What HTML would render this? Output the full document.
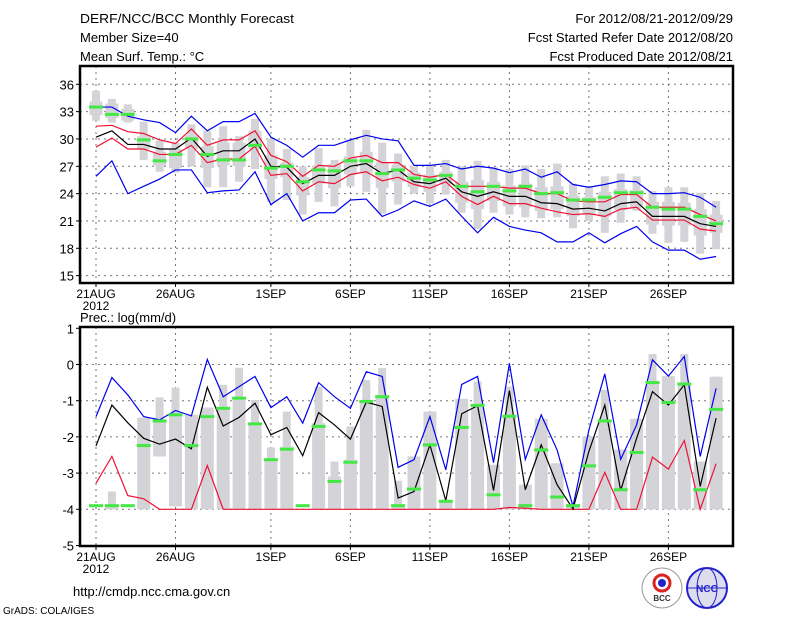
<!DOCTYPE html>
<html><head><meta charset="utf-8"><style>
body{margin:0;background:#fff;}
svg{display:block;font-family:"Liberation Sans",sans-serif;}
</style></head><body>
<svg id="c" width="800" height="618" xmlns="http://www.w3.org/2000/svg">
<text x="80" y="23" font-size="13" textLength="214" lengthAdjust="spacingAndGlyphs">DERF/NCC/BCC Monthly Forecast</text>
<text x="80" y="42" font-size="13">Member Size=40</text>
<text x="80" y="61" font-size="13">Mean Surf. Temp.: °C</text>
<text x="733" y="23" font-size="13" text-anchor="end">For 2012/08/21-2012/09/29</text>
<text x="733" y="42" font-size="13" text-anchor="end">Fcst Started Refer Date 2012/08/20</text>
<text x="733" y="61" font-size="13" text-anchor="end">Fcst Produced Date 2012/08/21</text>
<text x="80" y="322" font-size="13">Prec.: log(mm/d)</text>
<text x="73" y="596" font-size="13">http://cmdp.ncc.cma.gov.cn</text>
<text x="3" y="614" font-size="10">GrADS: COLA/IGES</text>
<g><circle cx="662" cy="588" r="20" fill="#fff" stroke="#999"/><circle cx="662" cy="583" r="8" fill="none" stroke="#d22" stroke-width="3"/><circle cx="662" cy="583" r="4" fill="#22c"/><text x="662" y="601" font-size="8" text-anchor="middle" font-weight="bold" fill="#333">BCC</text></g>
<g><circle cx="707" cy="588" r="20" fill="#dde" stroke="#22c" stroke-width="2"/><ellipse cx="707" cy="588" rx="10" ry="20" fill="none" stroke="#22c"/><line x1="687" y1="588" x2="727" y2="588" stroke="#22c"/><text x="707" y="592" font-size="10" text-anchor="middle" font-weight="bold" fill="#22c">NCC</text></g>
<g id="top"></g><g id="bot"></g>
</svg>
<script>
// ---- Temperature panel data (day 0 = 21 Aug) ----
const tBlueHi=[33.5,33.5,32.5,32.1,31.8,30.7,32.5,30.9,31.9,31.9,32.8,30.2,29.3,28.0,29.3,29.3,29.9,30.4,30.0,29.8,27.1,27.1,27.3,26.7,27.0,26.8,26.3,26.7,25.8,26.4,25.0,24.7,25.0,25.4,25.3,24.0,24.0,24.1,23.6,22.5];
const tBlueLo=[25.9,27.6,24.0,24.8,25.6,26.6,26.6,24.1,24.3,24.4,26.4,22.8,24.0,21.0,21.9,21.9,23.3,23.4,21.5,22.2,23.2,22.6,23.4,21.5,19.7,21.4,20.4,20.0,19.7,18.7,18.7,19.7,18.6,19.6,20.4,18.7,17.8,17.8,16.8,17.1];
const tRedHi=[31.4,31.5,30.8,30.6,29.9,29.5,31.1,29.3,29.9,29.9,30.9,28.2,27.5,25.9,27.1,27.0,27.9,28.2,27.4,27.4,26.1,25.8,26.1,24.8,24.8,24.8,24.6,24.6,24.0,24.0,23.2,23.1,23.1,23.9,23.9,22.5,22.5,22.5,21.7,21.0];
const tRedLo=[29.1,30.1,28.9,28.9,28.3,28.3,29.3,27.4,27.8,27.8,29.2,26.0,26.2,24.3,25.3,25.1,26.1,26.4,25.4,25.8,25.0,24.6,25.3,23.7,22.8,23.7,22.9,22.9,22.4,22.0,21.7,21.8,21.5,22.3,22.5,21.1,21.1,21.1,20.1,19.9];
const tMean=[30.2,30.9,29.4,29.4,28.9,28.9,30.1,28.1,28.7,28.7,30.0,27.0,26.9,25.1,26.0,26.0,27.0,27.3,26.2,26.6,25.3,25.1,25.7,24.2,23.7,24.2,23.7,23.7,23.0,22.9,22.3,22.4,22.1,22.9,23.1,21.5,21.5,21.5,20.7,20.4];
const tObs=[33.5,32.7,32.7,29.9,27.6,28.3,30.0,28.3,27.7,27.7,29.3,26.8,27.0,25.3,26.6,26.5,27.6,27.6,26.2,26.6,25.7,25.5,26.0,24.8,24.2,24.8,24.3,24.8,24.0,24.1,23.3,23.3,23.6,24.1,24.1,22.5,22.3,22.3,21.5,20.7];
const tWhiskHi=[35.3,34.4,33.8,31.9,29.8,29.6,31.6,30.9,31.4,30.3,32.2,30.0,28.9,27.0,29.0,27.7,29.9,31.0,29.6,28.4,27.0,27.2,27.7,27.0,27.6,26.9,26.7,27.1,26.7,27.3,25.1,24.8,25.9,26.2,25.9,24.3,24.7,24.7,24.1,23.2];
const tWhiskLo=[32.0,31.8,31.8,27.7,26.4,26.3,27.0,24.7,24.7,25.3,26.7,23.1,23.3,21.7,23.1,22.6,24.8,24.2,21.8,22.8,24.0,22.9,23.9,21.9,20.1,21.9,21.7,21.4,21.3,21.4,20.2,21.0,19.7,20.8,22.1,19.6,18.6,18.7,17.4,17.9];
const tBoxHi=[34.1,33.9,33.3,30.3,28.6,28.9,30.4,29.2,29.6,29.6,30.9,28.2,27.4,25.8,27.1,27.2,28.1,28.6,27.5,27.2,26.3,26.1,26.4,25.3,25.5,25.3,24.9,25.1,24.7,24.8,23.8,23.6,24.2,24.5,24.4,23.1,23.1,23.0,22.3,21.7];
const tBoxLo=[32.6,32.3,32.0,28.9,27.1,26.8,28.9,26.8,27.1,27.0,28.9,25.6,25.8,23.8,25.1,24.6,26.1,26.3,24.6,25.3,24.7,24.2,25.0,23.0,22.3,23.2,22.6,22.5,22.1,22.3,21.5,21.7,21.5,22.2,22.5,20.6,20.5,20.5,19.4,19.7];
const tTicks=[15,18,21,24,27,30,33,36];
// ---- Precipitation panel data ----
const pBlue=[-1.44,-0.36,-0.84,-1.44,-1.53,-1.27,-1.42,0.14,-0.89,-0.61,-0.33,-1.19,-0.89,-1.62,-0.50,-0.89,-1.21,-0.20,-0.33,-2.84,-2.63,-1.44,-2.91,-0.55,-0.33,-2.71,0.03,-2.62,-1.39,-2.36,-3.92,-1.81,-0.26,-2.62,-1.67,0.13,-0.32,0.22,-2.54,-0.66];
const pMean=[-2.25,-1.12,-1.61,-2.04,-2.20,-2.06,-2.33,-0.63,-1.70,-1.46,-1.07,-1.94,-1.74,-2.52,-1.33,-1.67,-2.06,-1.04,-1.16,-3.69,-3.51,-2.22,-3.76,-1.36,-1.14,-3.48,-0.72,-3.46,-2.22,-3.32,-3.99,-2.40,-1.12,-3.48,-2.04,-0.75,-1.12,-0.56,-3.37,-1.48];
const pRed=[-3.28,-2.54,-3.62,-3.71,-4,-4,-4,-2.79,-4,-4,-4,-4,-4,-4,-4,-4,-4,-4,-4,-4,-4,-4,-4,-4,-4,-4,-3.95,-3.97,-4,-4,-4,-4,-2.98,-4,-4,-2.56,-2.89,-2.10,-4,-2.74];
const pObs=[-3.9,-3.9,-3.9,-2.24,-1.56,-1.39,-2.24,-1.44,-1.21,-0.93,-1.64,-2.63,-2.34,-3.9,-1.71,-3.23,-2.70,-1.02,-0.89,-3.9,-3.44,-2.22,-3.78,-1.74,-1.13,-3.60,-1.43,-3.9,-2.36,-3.66,-3.9,-2.80,-1.56,-3.46,-2.43,-0.50,-1.05,-0.54,-3.46,-1.24];
const pWhiskHi=[-4,-3.51,-4,-1.47,-0.91,-0.64,-1.39,-1.19,-0.56,-0.09,-0.98,-2.29,-1.30,-4,-0.61,-2.68,-1.71,-0.43,-0.10,-3.21,-2.54,-1.30,-3.74,-0.95,-0.47,-2.77,-0.61,-3.32,-1.50,-2.73,-3.9,-1.99,-0.70,-2.35,-1.50,0.29,-0.32,0.29,-2.68,-0.34];
const pBoxHi=[-4,-3.9,-4,-1.47,-1.53,-1.35,-1.39,-1.19,-1.21,-0.98,-1.62,-2.63,-2.27,-4,-1.62,-3.09,-2.63,-0.98,-0.84,-3.92,-2.54,-1.30,-3.74,-0.95,-1.18,-2.77,-1.41,-3.32,-1.50,-2.73,-3.9,-1.99,-1.53,-2.35,-1.50,-0.47,-0.32,-0.52,-2.68,-0.34];
const pBoxLo=[-4,-4,-4,-4,-2.54,-3.92,-4,-4,-4,-4,-4,-4,-4,-4,-4,-4,-4,-4,-4,-4,-4,-4,-4,-4,-4,-4,-4,-4,-4,-4,-4,-4,-4,-4,-4,-4,-4,-4,-4,-4];
const pTicks=[-5,-4,-3,-2,-1,0,1];
const xTickDays=[0,5,11,16,21,26,31,36];
const xTickLabels=["21AUG","26AUG","1SEP","6SEP","11SEP","16SEP","21SEP","26SEP"];

const NS="http://www.w3.org/2000/svg";
const X0=80,X1=733;
const xs=d=>96+15.9*d;
function mk(p,tag,a){const e=document.createElementNS(NS,tag);for(const k in a)e.setAttribute(k,a[k]);p.appendChild(e);return e;}
function panel(g,T,B,ys,ticks,name){
  // grid
  ticks.forEach(v=>{const y=ys(v);
    if(y>T+2&&y<B-2){const l=mk(g,'line',{x1:X0,x2:X1,y1:y,y2:y,stroke:'#777','stroke-dasharray':'2,4'});
    
    }
    const t=mk(g,'text',{x:X0-6,y:y+5,'font-size':13,'text-anchor':'end'});t.textContent=v;
    
    
    mk(g,'line',{x1:X0-4,x2:X0,y1:y,y2:y,stroke:'#000'});
  });
  xTickDays.forEach((d,i)=>{const x=xs(d);
    const l=mk(g,'line',{x1:x,x2:x,y1:T,y2:B,stroke:'#777','stroke-dasharray':'2,4'});
    
    
    mk(g,'line',{x1:x,x2:x,y1:B,y2:B+4,stroke:'#000'});
    const t=mk(g,'text',{x:x,y:B+15,'font-size':12,'text-anchor':'middle'});t.textContent=xTickLabels[i];
    
    
  });
  const yr=mk(g,'text',{x:xs(0),y:B+27,'font-size':12,'text-anchor':'middle'});yr.textContent='2012';
  
  
}
function boxes(g,wHi,wLo,bHi,bLo,ys,name){
  for(let d=0;d<wHi.length;d++){const x=xs(d);
    if(wHi[d]>wLo[d]){const r=mk(g,'rect',{x:x-4,y:ys(wHi[d]),width:8,height:ys(wLo[d])-ys(wHi[d]),fill:'#d4d4d8'});
      
      }
    if(bHi[d]>bLo[d]){const r=mk(g,'rect',{x:x-6.5,y:ys(bHi[d]),width:13,height:ys(bLo[d])-ys(bHi[d]),fill:'#d4d4d8'});
      
      }
  }
}
function line(g,arr,ys,col,name){
  const p=mk(g,'polyline',{points:arr.map((v,d)=>xs(d)+','+ys(v)).join(' '),fill:'none',stroke:col,'stroke-width':1.2});
  
  
}
function obs(g,arr,ys,name){
  arr.forEach((v,d)=>{const r=mk(g,'rect',{x:xs(d)-7,y:ys(v)-1.5,width:14,height:3,fill:'#44e844'});
    
    });
}
function frame(g,T,B,name){const r=mk(g,'rect',{x:X0,y:T,width:X1-X0,height:B-T,fill:'none',stroke:'#000','stroke-width':2.5});
  
  }

// top
const gt=document.getElementById('top');


const yt=v=>84.3+(36-v)*9.11;
panel(gt,66,283,yt,tTicks,'temp');
boxes(gt,tWhiskHi,tWhiskLo,tBoxHi,tBoxLo,yt,'temp');
line(gt,tBlueHi,yt,'#0000ee','temp-blue-upper');
line(gt,tBlueLo,yt,'#0000ee','temp-blue-lower');
line(gt,tRedHi,yt,'#ee1133','temp-red-upper');
line(gt,tRedLo,yt,'#ee1133','temp-red-lower');
line(gt,tMean,yt,'#000','temp-ensemble-mean');
obs(gt,tObs,yt,'temp-observed');
frame(gt,66,283,'temp');
// bottom
const gb=document.getElementById('bot');


const yb=v=>328.3+(1-v)*36.2;
panel(gb,327,546,yb,pTicks,'precip');
boxes(gb,pWhiskHi,pBoxLo,pBoxHi,pBoxLo,yb,'precip');
line(gb,pBlue,yb,'#0000ee','precip-blue-upper');
line(gb,pRed,yb,'#ee1133','precip-red-lower');
line(gb,pMean,yb,'#000','precip-ensemble-mean');
obs(gb,pObs,yb,'precip-observed');
frame(gb,327,546,'precip');
</script>
</body></html>
